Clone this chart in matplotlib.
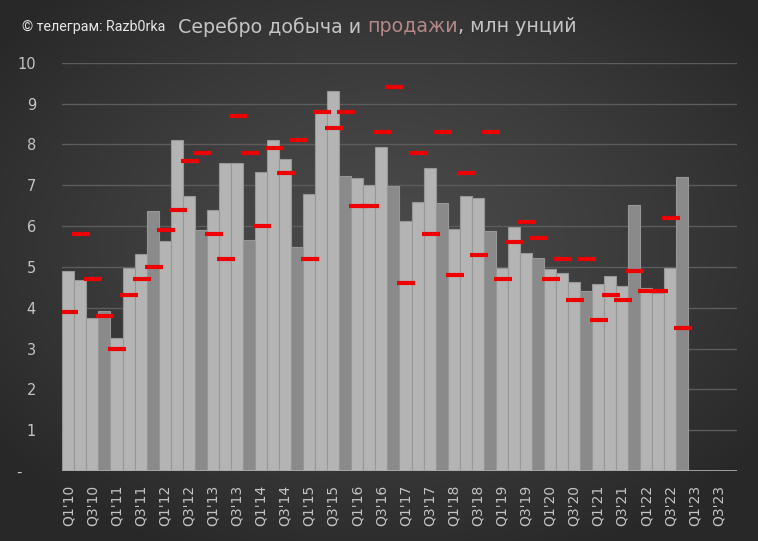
import numpy as np
import matplotlib
matplotlib.use("Agg")
import matplotlib.pyplot as plt

# --- DATA ---
years = list(range(10, 24))
quarters = [f"Q{q}'{y:02d}" for y in years for q in (1, 2, 3, 4)]  # Q1'10 .. Q4'23

mining = [4.91, 4.69, 3.75, 3.91,
          3.26, 4.96, 5.32, 6.38,
          5.64, 8.11, 6.74, 5.91,
          6.40, 7.54, 7.54, 5.65,
          7.32, 8.11, 7.63, 5.49,
          6.78, 8.85, 9.31, 7.22,
          7.18, 7.00, 7.94, 6.98,
          6.12, 6.60, 7.41, 6.56,
          5.92, 6.74, 6.69, 5.87,
          4.97, 5.97, 5.34, 5.21,
          4.94, 4.84, 4.62, 4.42,
          4.58, 4.78, 4.52, 6.52,
          4.48, 4.35, 4.97, 7.19]

sales = [3.9, 5.8, 4.7, 3.8,
         3.0, 4.3, 4.7, 5.0,
         5.9, 6.4, 7.6, 7.8,
         5.8, 5.2, 8.7, 7.8,
         6.0, 7.9, 7.3, 8.1,
         5.2, 8.8, 8.4, 8.8,
         6.5, 6.5, 8.3, 9.4,
         4.6, 7.8, 5.8, 8.3,
         4.8, 7.3, 5.3, 8.3,
         4.7, 5.6, 6.1, 5.7,
         4.7, 5.2, 4.2, 5.2,
         3.7, 4.3, 4.2, 4.9,
         4.4, 4.4, 6.2, 3.5]

y_ticks = list(range(0, 11))
y_labels = ["-   "] + [str(v) for v in y_ticks[1:]]

# --- FIGURE ---
W, H = 758, 541
fig = plt.figure(figsize=(W / 100, H / 100), dpi=100)

# radial gradient background
bg = fig.add_axes([0, 0, 1, 1], zorder=-10)
yy, xx = np.mgrid[0:H, 0:W]
r = np.sqrt(((xx - W * 0.5) / (W * 0.62)) ** 2 + ((yy - H * 0.45) / (H * 0.62)) ** 2)
r = np.clip(r, 0, 1)
shade = 0.29 - 0.13 * r ** 1.3
bg.imshow(np.dstack([shade] * 3), aspect="auto", extent=[0, 1, 0, 1])
bg.axis("off")

ax = fig.add_axes([0.0822, 0.1294, 0.8896, 0.7547])
ax.patch.set_alpha(0)

x = np.arange(len(mining))
bar_colors = ["#8a8a8a" if q.startswith("Q4") else "#b4b4b4" for q in quarters[:len(mining)]]
ax.bar(x, mining, width=1.0, color=bar_colors, edgecolor="#979797", linewidth=0.8, zorder=2)
ax.plot(x + 0.08, sales, ls="none", marker="_", ms=13.5, mew=3.0, color="#ee0000", zorder=3)

ax.set_xlim(-0.5, len(quarters) - 0.5)
ax.set_ylim(0, 10)
ax.set_yticks(y_ticks)
ax.set_yticklabels(y_labels)
ax.set_xticks(np.arange(0, len(quarters), 2))
ax.set_xticklabels(quarters[::2], rotation=90)

ax.grid(axis="y", color="#5c5c5c", lw=1, zorder=0)
ax.axhline(0, color="#a8a8a8", lw=2, zorder=4)
for s in ax.spines.values():
    s.set_visible(False)
ax.tick_params(length=0, colors="#c4c4c4", labelsize=10.5)
ax.tick_params(axis="x", labelsize=10, pad=10)
ax.tick_params(axis="y", pad=19)

# --- TITLE ---
fig.text(22 / W, 1 - 27 / H, "© телеграм: Razb0rka", color="#e6e6e6", fontsize=10.3,
         va="center", ha="left", fontfamily="Roboto")
parts = [("Серебро добыча и ", "#c4c4c4"), ("продажи", "#b48888"), (", млн унций", "#c4c4c4")]
fig.canvas.draw()
renderer = fig.canvas.get_renderer()
xpos = 178
for txt, col in parts:
    t = fig.text(xpos / W, 1 - 27 / H, txt, color=col, fontsize=13.7, va="center", ha="left")
    xpos = t.get_window_extent(renderer).x1

fig.savefig("out.png", dpi=100)
